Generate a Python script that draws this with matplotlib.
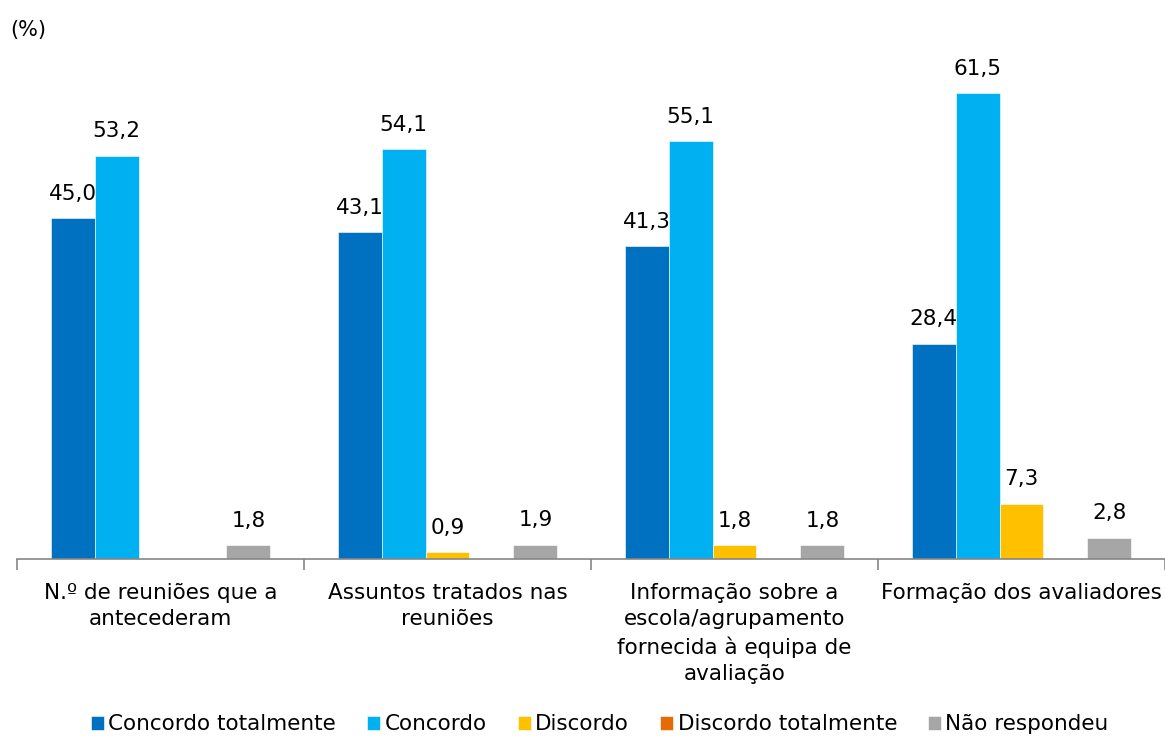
import matplotlib.pyplot as plt
import numpy as np

plt.rcParams['font.family'] = ['DejaVu Sans']

categorias = ['N.º de reuniões que a\nantecederam',
              'Assuntos tratados nas\nreuniões',
              'Informação sobre a\nescola/agrupamento\nfornecida à equipa de\navaliação',
              'Formação dos avaliadores']
series = ['Concordo totalmente', 'Concordo', 'Discordo', 'Discordo totalmente', 'Não respondeu']
cores = ['#0070C0', '#00B0F0', '#FFC000', '#E36C09', '#A6A6A6']

concordo_tot = [45.0, 43.1, 41.3, 28.4]
concordo = [53.2, 54.1, 55.1, 61.5]
discordo = [0.0, 0.9, 1.8, 7.3]
discordo_tot = [0.0, 0.0, 0.0, 0.0]
nao_resp = [1.8, 1.9, 1.8, 2.8]
valores = [concordo_tot, concordo, discordo, discordo_tot, nao_resp]

fig = plt.figure(figsize=(11.65, 7.36), dpi=100)
ax = fig.add_axes([17/1165, 0.2405, 1 - 17/1165, 0.6795])

x = np.arange(len(categorias))
w = 0.153
for i, (vals, nome, cor) in enumerate(zip(valores, series, cores)):
    pos = x + (i - 2) * w
    ax.bar(pos, vals, w, color=cor, label=nome, edgecolor='white', linewidth=0.4)
    for p, v in zip(pos, vals):
        if v > 0:
            ax.text(p, v + 1.9, f'{v:.1f}'.replace('.', ','), ha='center', va='bottom', fontsize=15.5)

ax.set_xlim(-0.5, len(categorias) - 0.5)
ax.set_ylim(0, 66)
ax.set_yticks([])
for s in ['top', 'right', 'left']:
    ax.spines[s].set_visible(False)
ax.spines['bottom'].set_color('#868686')
ax.spines['bottom'].set_linewidth(1.2)

# ticks at group boundaries, labels at centres
ax.set_xticks(np.arange(len(categorias) + 1) - 0.5)
ax.set_xticklabels([])
ax.tick_params(axis='x', which='major', length=8, color='#868686', width=1.2, direction='out')
ax.set_xticks(x, minor=True)
ax.set_xticklabels(categorias, minor=True, fontsize=15.5, linespacing=1.4)
ax.tick_params(axis='x', which='minor', length=0, pad=17)

fig.text(10/1165, 1 - 30/736, '(%)', fontsize=15, va='center', ha='left')

fig.legend(loc='lower center', bbox_to_anchor=(0.515, -0.024), ncol=5, frameon=False,
           fontsize=15.5, handlelength=0.6, handleheight=0.6, handletextpad=0.2,
           columnspacing=1.45)

fig.savefig('out.png', dpi=100)
